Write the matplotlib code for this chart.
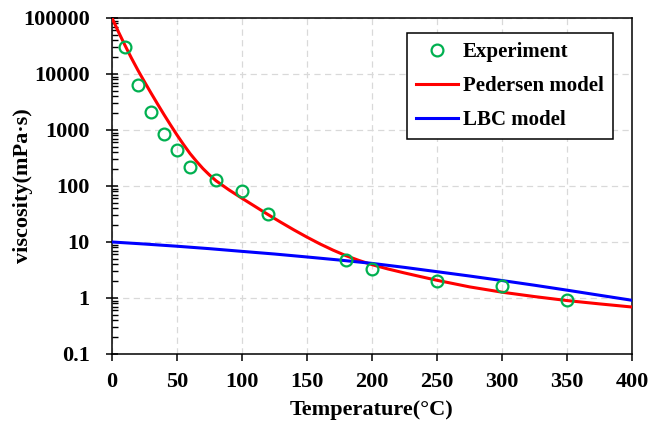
import numpy as np
import matplotlib
matplotlib.use('Agg')
import matplotlib.pyplot as plt
from matplotlib.ticker import LogLocator, NullFormatter, FixedLocator

plt.rcParams['font.family'] = ['Liberation Serif', 'DejaVu Serif']
plt.rcParams['font.weight'] = 'bold'

# experiment data
exp_t = [10, 20, 30, 40, 50, 60, 80, 100, 120, 180, 200, 250, 300, 350]
exp_mu = [30000, 6450, 2120, 840, 434, 219, 128, 82, 31.6, 4.77, 3.25, 1.99, 1.61, 0.93]

# Pedersen model curve
ped_t = [0, 5, 10, 15, 20, 25, 30, 35, 40, 45, 50, 55, 60, 65, 70, 75, 80, 90,
         100, 110, 120, 130, 140, 150, 160, 170, 180, 190, 200, 212, 225, 237,
         250, 275, 300, 325, 350, 375, 400]
ped_mu = [100000, 56200, 32400, 19100, 11600, 7240, 4570, 2920, 1880, 1230, 813,
          550, 380, 275, 204, 157, 124, 85.1, 60.3, 43.2, 30.9, 22.4, 16.4, 12.2,
          9.23, 7.16, 5.69, 4.68, 3.94, 3.31, 2.80, 2.42, 2.07, 1.58, 1.27, 1.06,
          0.90, 0.785, 0.69]

# LBC model curve
lbc_t = [0, 25, 50, 75, 100, 125, 150, 175, 200, 225, 250, 275, 300, 325, 350, 375, 400]
lbc_mu = [10, 9.2, 8.4, 7.6, 6.8, 6.1, 5.4, 4.76, 4.15, 3.52, 2.95, 2.47, 2.05,
          1.69, 1.38, 1.12, 0.91]

x_ticks = [0, 50, 100, 150, 200, 250, 300, 350, 400]
y_ticks = [0.1, 1, 10, 100, 1000, 10000, 100000]
y_labels = ['0.1', '1', '10', '100', '1000', '10000', '100000']

fig = plt.figure(figsize=(6.52, 4.28), dpi=100)
ax = fig.add_axes([0.1718, 0.1729, 0.7975, 0.7851])

ax.plot(exp_t, exp_mu, 'o', mfc='none', mec='#00B050', mew=1.6, ms=8.5,
        label='Experiment', zorder=4)
ax.plot(ped_t, ped_mu, color='#FF0000', lw=2.2, label='Pedersen model', zorder=3)
ax.plot(lbc_t, lbc_mu, color='#0000FF', lw=2.2, label='LBC model', zorder=3)

ax.set_yscale('log')
ax.set_xlim(0, 400)
ax.set_ylim(0.1, 100000)
ax.xaxis.set_major_locator(FixedLocator(x_ticks))
ax.set_yticks(y_ticks)
ax.set_yticklabels(y_labels)
ax.yaxis.set_minor_locator(LogLocator(base=10, subs=np.arange(2, 10), numticks=20))
ax.yaxis.set_minor_formatter(NullFormatter())

ax.grid(True, which='major', color='#d9d9d9', linestyle=(0, (5, 3.5)), lw=0.9)
ax.set_axisbelow(True)

for s in ax.spines.values():
    s.set_linewidth(1.1)
    s.set_color('black')

ax.tick_params(axis='x', which='major', direction='out', length=5, width=1.1,
               labelsize=16, pad=8)
ax.tick_params(axis='y', which='major', direction='inout', length=8, width=1.1,
               labelsize=16, pad=12)
ax.tick_params(axis='y', which='minor', direction='in', length=4, width=1.0)

ax.set_xlabel('Temperature(°C)', fontsize=16, fontweight='bold', labelpad=6)
ax.set_ylabel('viscosity(mPa·s)', fontsize=16, fontweight='bold')
ax.yaxis.set_label_coords(-0.152, 0.5)

leg = ax.legend(loc='upper right', bbox_to_anchor=(0.9635, 0.955), fontsize=15,
                frameon=True, fancybox=False, edgecolor='black', framealpha=1,
                handlelength=2.0, handletextpad=0.25, borderpad=0.45,
                labelspacing=0.66, borderaxespad=0)
leg.get_frame().set_linewidth(1.1)

fig.savefig('out.png', dpi=100)
